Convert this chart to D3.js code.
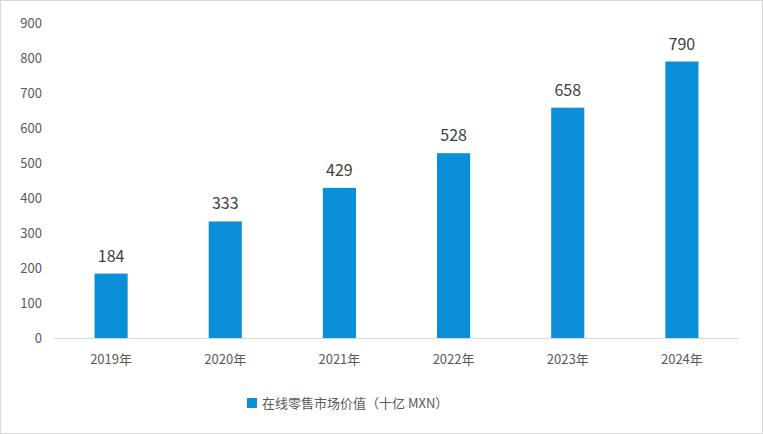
<!DOCTYPE html>
<html><head><meta charset="utf-8">
<script src="https://cdn.jsdelivr.net/npm/d3@7"></script>
<style>body{margin:0;background:#fff}</style>
</head><body>
<div id="chart"></div>
<script>
var years = ["2019年","2020年","2021年","2022年","2023年","2024年"];
var values = [184,333,429,528,658,790];
var yTicks = [0,100,200,300,400,500,600,700,800,900];
var seriesName = "在线零售市场价值（十亿 MXN）";

var W = 763, H = 434;
var svg = d3.select("#chart").append("svg").attr("width", W).attr("height", H)
  .style("font-family", "'Noto Sans CJK SC','Noto Sans',sans-serif");

svg.append("rect").attr("x",0.5).attr("y",0.5).attr("width",W-1).attr("height",H-1)
  .attr("fill","#fff").attr("stroke","#d9d9d9");

var x = d3.scaleBand().domain(years).range([54, 739]).paddingInner(0.71).paddingOuter(0.355);
var y = d3.scaleLinear().domain([0,900]).range([338, 23]);

// y labels
svg.append("g").selectAll("text").data(yTicks).enter().append("text")
  .attr("x", 42).attr("y", function(d){return y(d);}).attr("dy","0.35em")
  .attr("text-anchor","end").attr("font-size",13).attr("fill","#595959")
  .text(function(d){return d;});

// x axis line
svg.append("line").attr("x1",54).attr("x2",739).attr("y1",338.5).attr("y2",338.5)
  .attr("stroke","#d9d9d9");

svg.append("g").selectAll("text").data(years).enter().append("text")
  .attr("x", function(d){return x(d)+x.bandwidth()/2;}).attr("y", 364)
  .attr("text-anchor","middle").attr("font-size",13).attr("fill","#595959")
  .text(function(d){return d;});

svg.append("g").selectAll("rect").data(values).enter().append("rect")
  .attr("x", function(d,i){return x(years[i]);})
  .attr("y", function(d){return y(d);})
  .attr("width", x.bandwidth())
  .attr("height", function(d){return y(0)-y(d);})
  .attr("fill","#0a8fd8");

svg.append("g").selectAll("text").data(values).enter().append("text")
  .attr("x", function(d,i){return x(years[i])+x.bandwidth()/2;})
  .attr("y", function(d){return y(d)-12;})
  .attr("text-anchor","middle").attr("font-size",16).attr("fill","#404040")
  .text(function(d){return d;});

// legend
svg.append("rect").attr("x",247).attr("y",398).attr("width",10).attr("height",10).attr("fill","#0a8fd8");
svg.append("text").attr("x",262).attr("y",403).attr("dy","0.35em")
  .attr("font-size",13).attr("fill","#595959").text(seriesName);
</script>
</body></html>
